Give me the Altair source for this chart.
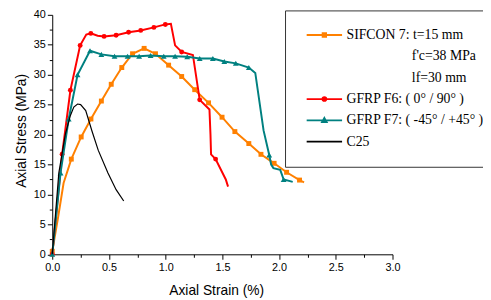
import altair as alt
import pandas as pd

# ---------------- data ----------------
series_names = ["SIFCON 7", "GFRP F6", "GFRP F7", "C25"]

sifcon_x = [0.0, 0.05, 0.10, 0.168, 0.255, 0.341, 0.433, 0.52, 0.613, 0.708, 0.81, 0.91,
            1.026, 1.141, 1.256, 1.378, 1.497, 1.61, 1.733, 1.84, 1.956, 2.066, 2.18, 2.22]
sifcon_y = [0.5, 6.0, 11.9, 15.9, 19.6, 22.6, 25.6, 28.4, 31.2, 33.5, 34.4, 33.5,
            31.6, 29.7, 27.5, 25.3, 22.9, 20.5, 18.5, 16.7, 15.2, 13.7, 12.4, 12.0]
sifcon_m = [1, 0, 0, 1, 1, 1, 1, 1, 1, 1, 1, 1,
            1, 1, 1, 1, 1, 1, 1, 1, 1, 1, 1, 0]

f6_x = [0.0, 0.087, 0.16, 0.246, 0.30, 0.34, 0.40, 0.457, 0.563, 0.673, 0.78, 0.896, 0.997,
        1.046, 1.083, 1.141, 1.24, 1.30, 1.386, 1.395, 1.40, 1.44, 1.53, 1.55]
f6_y = [0.0, 16.7, 27.4, 34.9, 36.7, 36.9, 36.5, 36.4, 36.6, 37.1, 37.4, 37.9, 38.4,
        38.5, 34.9, 33.8, 33.3, 25.8, 24.2, 20.0, 16.7, 15.9, 12.5, 11.3]
f6_m = [1, 1, 1, 1, 0, 1, 0, 1, 1, 1, 1, 1, 1,
        0, 0, 1, 0, 1, 0, 0, 0, 1, 0, 0]

f7_x = [0.0, 0.073, 0.145, 0.223, 0.333, 0.433, 0.549, 0.664, 0.766, 0.867, 0.983, 1.083,
        1.19, 1.30, 1.416, 1.517, 1.618, 1.733, 1.79, 1.863, 1.913, 1.93, 1.95, 2.01, 2.04, 2.12]
f7_y = [0.0, 13.6, 22.6, 30.0, 34.0, 33.4, 33.1, 33.1, 33.1, 33.2, 33.1, 33.1,
        33.0, 32.7, 32.7, 32.2, 31.9, 31.2, 30.3, 20.7, 16.6, 15.0, 14.4, 14.1, 12.5, 12.1]
f7_m = [1, 1, 1, 1, 1, 1, 1, 1, 1, 1, 1, 1,
        1, 1, 1, 1, 1, 1, 0, 0, 1, 0, 0, 0, 1, 0]

c25_x = [0.0, 0.058, 0.116, 0.16, 0.19, 0.223, 0.25, 0.295, 0.35, 0.405, 0.491, 0.563, 0.63]
c25_y = [0.0, 13.6, 20.1, 23.2, 24.6, 25.1, 25.0, 24.0, 20.6, 17.4, 13.6, 10.8, 8.9]

x_major = [0.0, 0.5, 1.0, 1.5, 2.0, 2.5, 3.0]
x_minor = [0.25, 0.75, 1.25, 1.75, 2.25, 2.75]
y_major = [0, 5, 10, 15, 20, 25, 30, 35, 40]
y_minor = [2.5, 7.5, 12.5, 17.5, 22.5, 27.5, 32.5, 37.5]

ZW = "\u200b"   # zero-width char keeps the indent from being trimmed
NB = "\u00a0"
legend_labels = ["SIFCON 7: t=15 mm", ZW + NB * 19 + "f'c=38 MPa", ZW + NB * 19 + "lf=30 mm",
                 "GFRP F6: ( 0° / 90° )", "GFRP F7: ( -45° / +45° )", "C25"]

# ---------------- styles ----------------
ORANGE = "#FF8000"
RED = "#FF0000"
TEAL = "#008080"
BLACK = "#000000"

legend_colors = [ORANGE, "transparent", "transparent", RED, TEAL, BLACK]
legend_shapes = [
    "M-3,0H3M-0.3,-0.3H0.3V0.3H-0.3Z",
    "M-3,0H3",
    "M-3,0H3",
    "M-3,0H3M0.33,0A0.33,0.33,0,1,1,-0.33,0A0.33,0.33,0,1,1,0.33,0Z",
    "M-3,0H3M0,-0.42L0.4,0.28H-0.4Z",
    "M-3,0H3",
]

rows = []
for name, xs, ys, ms in [
    ("SIFCON 7", sifcon_x, sifcon_y, sifcon_m),
    ("GFRP F6", f6_x, f6_y, f6_m),
    ("GFRP F7", f7_x, f7_y, f7_m),
    ("C25", c25_x, c25_y, [0] * len(c25_x)),
]:
    for i, (x, y, m) in enumerate(zip(xs, ys, ms)):
        rows.append({"series": name, "order": i, "strain": x, "stress": y, "marker": m})
df = pd.DataFrame(rows)

xscale = alt.Scale(domain=[0, 3], nice=False)
yscale = alt.Scale(domain=[0, 40], nice=False)

major_x = alt.Axis(values=x_major, format=".1f", tickSize=5, grid=False, orient="bottom",
                   labelFlush=False,
                   title="Axial Strain (%)", titleX=166.7, titleY=41,
                   titleAlign="center", titleBaseline="alphabetic")
minor_x = alt.Axis(values=x_minor, labels=False, tickSize=3, grid=False, orient="bottom",
                   domain=False, title=None)
major_y = alt.Axis(values=y_major, format="d", tickSize=5, grid=False, orient="left",
                   labelFlush=False,
                   title="Axial Stress (MPa)", titleX=-27, titleY=117.5,
                   titleAlign="center", titleBaseline="alphabetic", titleAngle=270)
minor_y = alt.Axis(values=y_minor, labels=False, tickSize=3, grid=False, orient="left",
                   domain=False, title=None)

base = alt.Chart(df)


def line_layer(name, color, width, xaxis=None, yaxis=None):
    return base.transform_filter(alt.datum.series == name).mark_line(
        color=color, strokeWidth=width
    ).encode(
        x=alt.X("strain:Q", scale=xscale, axis=xaxis),
        y=alt.Y("stress:Q", scale=yscale, axis=yaxis),
        order="order:Q",
    )


def marker_layer(name, color, shape, size):
    return base.transform_filter(
        (alt.datum.series == name) & (alt.datum.marker == 1)
    ).mark_point(
        shape=shape, filled=True, size=size, color=color, opacity=1
    ).encode(
        x=alt.X("strain:Q", scale=xscale, axis=None),
        y=alt.Y("stress:Q", scale=yscale, axis=None),
    )


leg = dict(
    title=None, orient="none", legendX=236.7, legendY=-4.5, padding=18,
    strokeColor="#333333", fillColor="white", labelFont="Liberation Serif",
    labelFontSize=14, labelColor="black", symbolSize=144, symbolStrokeWidth=1.8,
    symbolOffset=15, labelOffset=15.5, rowPadding=7.7, labelLimit=400,
)

leg_df = pd.DataFrame({"entry": legend_labels, "strain": [0.0] * 6, "stress": [0.0] * 6})
legend_layer = alt.Chart(leg_df).transform_filter("false").mark_point(
    filled=True, opacity=1
).encode(
    x=alt.X("strain:Q", scale=xscale, axis=None),
    y=alt.Y("stress:Q", scale=yscale, axis=None),
    fill=alt.Fill("entry:N", scale=alt.Scale(domain=legend_labels, range=legend_colors),
                  legend=alt.Legend(**leg)),
    stroke=alt.Stroke("entry:N", scale=alt.Scale(domain=legend_labels, range=legend_colors),
                      legend=alt.Legend(**leg)),
    shape=alt.Shape("entry:N", scale=alt.Scale(domain=legend_labels, range=legend_shapes),
                    legend=alt.Legend(**leg)),
)

chart = alt.layer(
    line_layer("SIFCON 7", ORANGE, 2, major_x, major_y),
    marker_layer("SIFCON 7", ORANGE, "square", 25),
    line_layer("GFRP F6", RED, 2, minor_x, minor_y),
    marker_layer("GFRP F6", RED, "circle", 25),
    line_layer("GFRP F7", TEAL, 2),
    marker_layer("GFRP F7", TEAL, "triangle-up", 35),
    line_layer("C25", BLACK, 1.2),
    legend_layer,
).resolve_axis(
    x="independent", y="independent"
).properties(
    width=346, height=243.5,
    autosize=alt.AutoSizeParams(type="none"),
    padding={"left": 45, "top": 4.5, "right": 92, "bottom": 44},
).configure_view(
    stroke="transparent"
).configure_axis(
    domainColor="black", tickColor="black", labelColor="black",
    labelFont="Liberation Sans", labelFontSize=11, titleFont="Liberation Sans",
    titleFontSize=14, titleFontWeight="normal", titleColor="black",
    domainWidth=1, tickWidth=1, labelPadding=2,
).configure_legend(
    strokeWidth=1
)

chart.save("out.html", embed_options={"renderer": "svg", "actions": False})
